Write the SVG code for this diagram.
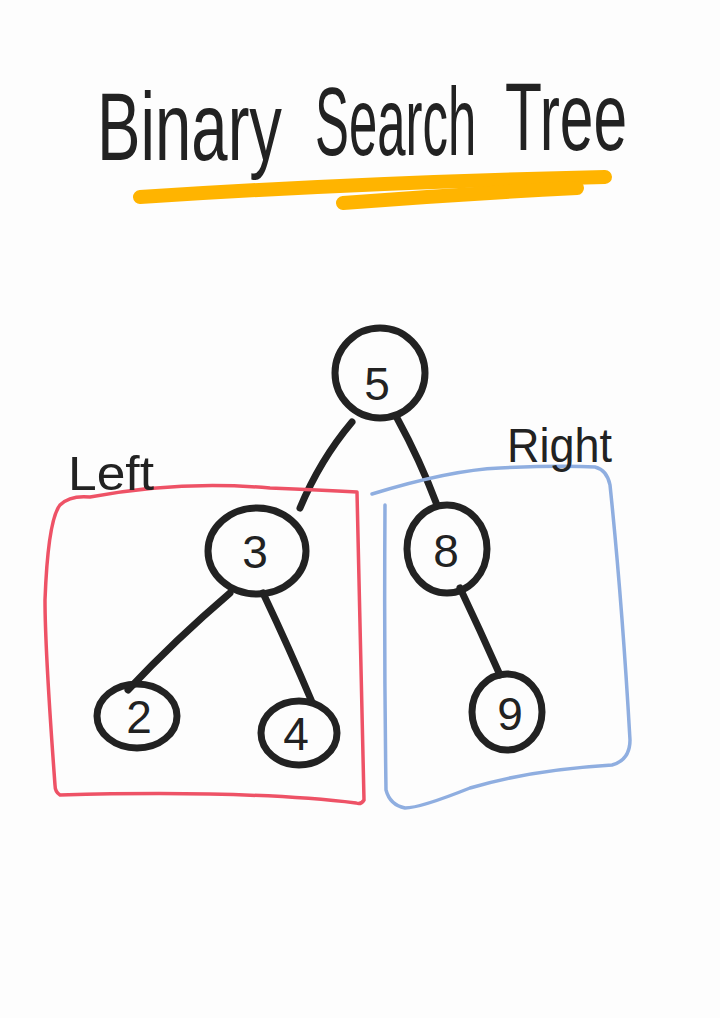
<svg xmlns="http://www.w3.org/2000/svg" width="720" height="1018" viewBox="0 0 720 1018">
<style>
.node{fill:none;stroke:#222;stroke-width:7;stroke-linecap:round}
.edge{fill:none;stroke:#222;stroke-width:7;stroke-linecap:round}
.num{font-family:"Liberation Sans",sans-serif;font-size:46px;fill:#222;text-anchor:middle}
.lbl{font-family:"Liberation Sans",sans-serif;font-size:48px;fill:#222}
.title{font-family:"Liberation Sans",sans-serif;font-size:96px;fill:#222}
.hl{fill:none;stroke:#FFB400;stroke-width:14;stroke-linecap:round}
</style>
<rect width="720" height="1018" fill="#FDFDFD"/>
<g id="title">
<text class="title" transform="translate(97 160) scale(0.68 1)">Binary</text>
<text class="title" transform="translate(315 155) scale(0.53 1)">Search</text>
<text class="title" transform="translate(505 150) scale(0.63 1)">Tree</text>
<path class="hl" d="M140 197 Q370 182 605 177"/>
<path class="hl" d="M343 203 Q460 194 577 188"/>
</g>
<g id="connectors">
<path class="edge" d="M352 422 Q320 460 300 508"/>
<path class="edge" d="M397 418 Q420 460 437 505"/>
<path class="edge" d="M230 593 Q175 640 128 690"/>
<path class="edge" d="M263 593 Q290 650 312 702"/>
<path class="edge" d="M460 588 Q480 630 500 675"/>
</g>
<g id="left-group">
<path d="M60 505 Q70 495 90 497 Q180 480 270 488 Q320 490 357 492 M357 492 L364 800 Q361 805 356 803 Q250 790 60 795 Q55 792 55 785 Q45 650 45 600 Q48 520 60 505" fill="none" stroke="#EE5266" stroke-width="3.5" stroke-linecap="round"/>
<text class="lbl" x="68" y="490" textLength="86" lengthAdjust="spacingAndGlyphs">Left</text>
</g>
<g id="right-group">
<path d="M372 494 Q450 470 500 468 Q560 465 595 467 Q607 470 610 485 Q622 600 630 740 Q630 760 612 765 Q530 770 470 788 Q420 808 405 808 Q390 805 386 790 Q384 650 385 505" fill="none" stroke="#8FAEE0" stroke-width="3.5" stroke-linecap="round"/>
<text class="lbl" x="507" y="462" textLength="105" lengthAdjust="spacingAndGlyphs">Right</text>
</g>
<g id="node-5"><ellipse class="node" cx="380" cy="373" rx="45" ry="45"/><text class="num" x="377" y="400">5</text></g>
<g id="node-3"><ellipse class="node" cx="257" cy="551" rx="49" ry="43"/><text class="num" x="255" y="568">3</text></g>
<g id="node-8"><ellipse class="node" cx="447" cy="549" rx="40" ry="44"/><text class="num" x="446" y="567">8</text></g>
<g id="node-2"><ellipse class="node" cx="137" cy="716" rx="40" ry="32"/><text class="num" x="139" y="733">2</text></g>
<g id="node-4"><ellipse class="node" cx="299" cy="733" rx="38" ry="32"/><text class="num" x="296" y="750">4</text></g>
<g id="node-9"><ellipse class="node" cx="507" cy="712" rx="35" ry="38"/><text class="num" x="510" y="730">9</text></g>
</svg>
